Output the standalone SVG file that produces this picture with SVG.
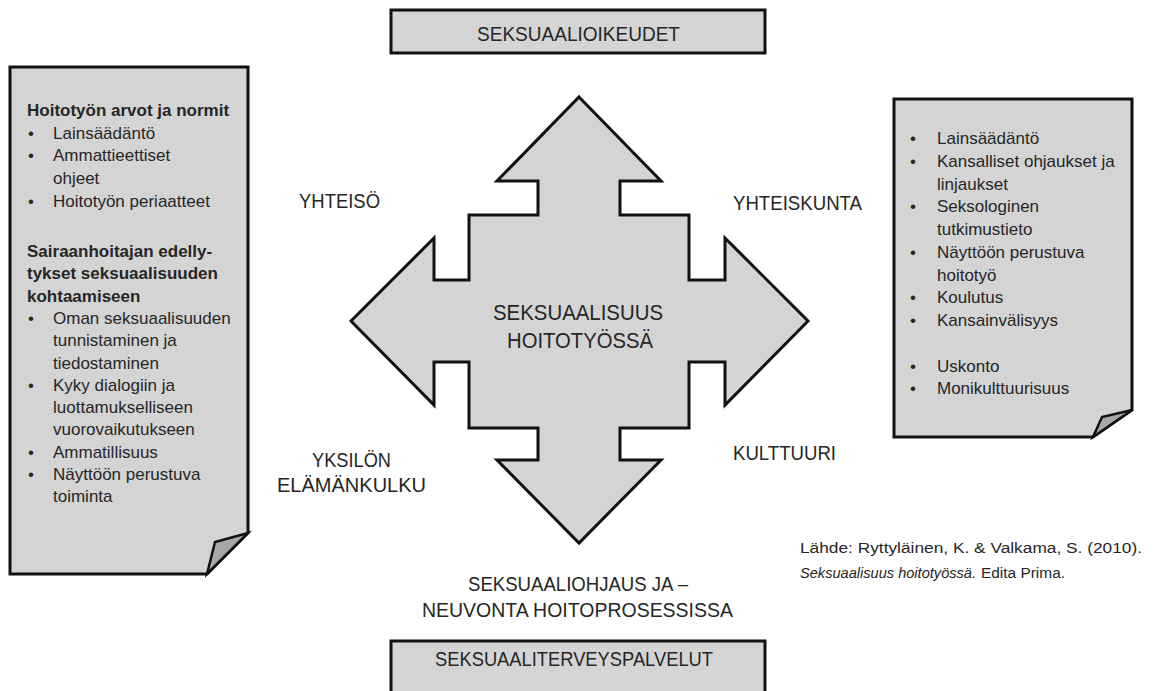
<svg xmlns="http://www.w3.org/2000/svg" width="1153" height="691" viewBox="0 0 1153 691">
<style>
.shape{fill:#d4d4d4;stroke:#111;stroke-width:3;stroke-linejoin:miter}
.fold{fill:#a8a8a8;stroke:#111;stroke-width:2.5;stroke-linejoin:miter}
.lbl{font-family:"Liberation Sans",Arial,sans-serif;font-size:20px;fill:#262626}
.big{font-size:21.5px}
.note{font-family:"Liberation Sans",Arial,sans-serif;font-size:17px;fill:#262626}
.b{font-weight:bold}
.src{font-family:"Liberation Sans",Arial,sans-serif;font-size:15.5px;fill:#262626}
.it{font-style:italic}
</style>
<rect width="1153" height="691" fill="#ffffff"/>
<g id="connectors"></g>
<g id="top-box">
<rect class="shape" x="391" y="10" width="374" height="43"/>
<text class="lbl" x="477" y="41" textLength="203" lengthAdjust="spacingAndGlyphs">SEKSUAALIOIKEUDET</text>
</g>
<g id="center-arrow">
<polygon class="shape" points="579,97 661,181 620,181 620,215 689,215 689,280 725,280 725,238 808,321 725,405 725,362 689,362 689,428 620,428 620,460 661,460 579,543 497,460 538,460 538,428 469,428 469,362 434,362 434,405 351,321 434,238 434,280 469,280 469,215 538,215 538,181 497,181"/>
<text class="lbl big" x="493" y="320" textLength="170" lengthAdjust="spacingAndGlyphs">SEKSUAALISUUS</text>
<text class="lbl big" x="507" y="348" textLength="146" lengthAdjust="spacingAndGlyphs">HOITOTYÖSSÄ</text>
</g>
<g id="label-yhteiso"><text class="lbl" x="299" y="208" textLength="81" lengthAdjust="spacingAndGlyphs">YHTEISÖ</text></g>
<g id="label-yhteiskunta"><text class="lbl" x="733" y="210" textLength="129" lengthAdjust="spacingAndGlyphs">YHTEISKUNTA</text></g>
<g id="label-yksilon">
<text class="lbl" x="312" y="467" textLength="79" lengthAdjust="spacingAndGlyphs">YKSILÖN</text>
<text class="lbl" x="277" y="492" textLength="149" lengthAdjust="spacingAndGlyphs">ELÄMÄNKULKU</text>
</g>
<g id="label-kulttuuri"><text class="lbl" x="733" y="460" textLength="103" lengthAdjust="spacingAndGlyphs">KULTTUURI</text></g>
<g id="label-ohjaus">
<text class="lbl" x="468" y="591" textLength="220" lengthAdjust="spacingAndGlyphs">SEKSUAALIOHJAUS JA –</text>
<text class="lbl" x="422" y="617" textLength="311" lengthAdjust="spacingAndGlyphs">NEUVONTA HOITOPROSESSISSA</text>
</g>
<g id="bottom-box">
<rect class="shape" x="391" y="641" width="374" height="60"/>
<text class="lbl" x="435" y="666" textLength="278" lengthAdjust="spacingAndGlyphs">SEKSUAALITERVEYSPALVELUT</text>
</g>
<g id="left-note">
<path class="shape" d="M10,67 H248 V533 L207,574 H10 Z"/>
<polygon class="fold" points="207,574 215,542 248,533"/>
<g class="note">
<text class="b" x="27" y="116">Hoitotyön arvot ja normit</text>
<text x="28" y="138.5">•</text><text x="53" y="138.5">Lainsäädäntö</text>
<text x="28" y="161.2">•</text><text x="53" y="161.2">Ammattieettiset</text>
<text x="53" y="183.9">ohjeet</text>
<text x="28" y="206.6">•</text><text x="53" y="206.6">Hoitotyön periaatteet</text>
<text class="b" x="27" y="257">Sairaanhoitajan edelly-</text>
<text class="b" x="27" y="279.3">tykset seksuaalisuuden</text>
<text class="b" x="27" y="301.6">kohtaamiseen</text>
<text x="28" y="323.9">•</text><text x="53" y="323.9">Oman seksuaalisuuden</text>
<text x="53" y="346.2">tunnistaminen ja</text>
<text x="53" y="368.5">tiedostaminen</text>
<text x="28" y="390.8">•</text><text x="53" y="390.8">Kyky dialogiin ja</text>
<text x="53" y="413.1">luottamukselliseen</text>
<text x="53" y="435.4">vuorovaikutukseen</text>
<text x="28" y="457.7">•</text><text x="53" y="457.7">Ammatillisuus</text>
<text x="28" y="480">•</text><text x="53" y="480">Näyttöön perustuva</text>
<text x="53" y="502.3">toiminta</text>
</g>
</g>
<g id="right-note">
<path class="shape" d="M894,99 H1132 V410 L1093,437 H894 Z"/>
<polygon class="fold" points="1093,437 1102,417 1132,410"/>
<g class="note">
<text x="910" y="144">•</text><text x="937" y="144">Lainsäädäntö</text>
<text x="910" y="166.75">•</text><text x="937" y="166.75">Kansalliset ohjaukset ja</text>
<text x="937" y="189.5">linjaukset</text>
<text x="910" y="212.25">•</text><text x="937" y="212.25">Seksologinen</text>
<text x="937" y="235">tutkimustieto</text>
<text x="910" y="257.75">•</text><text x="937" y="257.75">Näyttöön perustuva</text>
<text x="937" y="280.5">hoitotyö</text>
<text x="910" y="303.25">•</text><text x="937" y="303.25">Koulutus</text>
<text x="910" y="326">•</text><text x="937" y="326">Kansainvälisyys</text>
<text x="910" y="371.5">•</text><text x="937" y="371.5">Uskonto</text>
<text x="910" y="394.25">•</text><text x="937" y="394.25">Monikulttuurisuus</text>
</g>
</g>
<g id="source">
<text class="src" x="800" y="553" textLength="342" lengthAdjust="spacingAndGlyphs">Lähde: Ryttyläinen, K. &amp; Valkama, S. (2010).</text>
<text class="src it" x="800" y="578" textLength="176" lengthAdjust="spacingAndGlyphs">Seksuaalisuus hoitotyössä.</text>
<text class="src" x="981" y="578" textLength="84" lengthAdjust="spacingAndGlyphs">Edita Prima.</text>
</g>
</svg>
